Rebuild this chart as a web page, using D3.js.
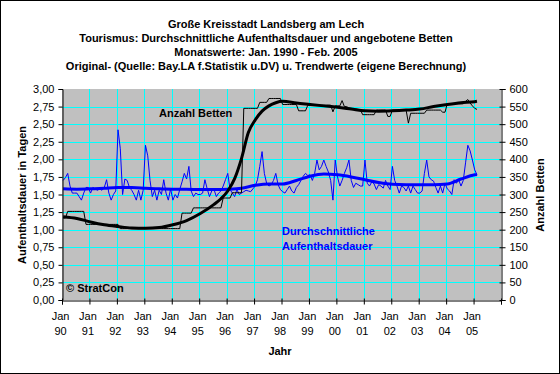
<!DOCTYPE html>
<html>
<head>
<meta charset="utf-8">
<script src="https://cdn.jsdelivr.net/npm/d3@7"></script>
<style>
body{margin:0;background:#fff;}
text{font-family:Arial,"Liberation Sans",sans-serif;font-size:11px;}
</style>
</head>
<body>
<script>
var width = 560, height = 374;

var titleLines = [
  "Große Kreisstadt Landsberg am Lech",
  "Tourismus: Durchschnittliche Aufenthaltsdauer und angebotene Betten",
  "Monatswerte: Jan. 1990 - Feb. 2005",
  "Original- (Quelle: Bay.LA f.Statistik u.DV) u. Trendwerte (eigene Berechnung)"
];
var years = ["90","91","92","93","94","95","96","97","98","99","00","01","02","03","04","05"];
var leftTicks = [0,0.25,0.5,0.75,1,1.25,1.5,1.75,2,2.25,2.5,2.75,3];
var rightTicks = [0,50,100,150,200,250,300,350,400,450,500,550,600];

// Durchschnittliche Aufenthaltsdauer, monthly Jan 1990 - Feb 2005
var stay = [
  1.70,1.74,1.80,1.62,1.52,1.52,1.52,1.47,1.42,1.52,1.60,1.60,
  1.52,1.60,1.58,1.56,1.58,1.56,1.60,1.71,1.52,1.42,1.50,1.55,
  2.42,2.15,1.50,1.72,1.70,1.60,1.56,1.50,1.42,1.56,1.42,1.56,
  2.20,2.05,1.70,1.47,1.56,1.42,1.56,1.50,1.71,1.52,1.42,1.58,
  1.42,1.50,1.45,1.57,1.68,1.80,1.72,1.90,1.55,1.47,1.52,1.50,
  1.50,1.52,1.71,1.58,1.47,1.55,1.57,1.47,1.52,1.55,1.62,1.71,
  1.80,1.57,1.52,1.47,1.57,1.50,1.52,1.54,1.56,1.55,1.54,1.58,
  1.62,1.71,1.90,2.11,1.80,1.66,1.62,1.64,1.70,1.80,1.64,1.57,
  1.54,1.52,1.57,1.62,1.55,1.52,1.60,1.64,1.70,1.76,1.80,1.77,
  1.78,1.70,1.80,1.99,1.85,1.90,1.99,1.90,1.82,1.70,1.42,1.99,
  1.75,1.62,1.70,1.80,1.88,1.99,1.70,1.60,1.66,1.64,1.62,1.62,
  1.99,1.66,1.62,1.68,1.65,1.57,1.64,1.62,1.59,1.70,1.62,1.57,
  1.90,1.70,1.62,1.52,1.62,1.60,1.55,1.62,1.52,1.62,1.57,1.52,
  1.52,1.55,1.80,1.99,1.75,1.71,1.69,1.60,1.52,1.62,1.52,1.66,
  1.58,1.55,1.50,1.71,1.66,1.71,1.62,1.70,1.95,2.20,2.12,1.99,
  1.85,1.78
];

// Anzahl Betten, monthly Jan 1990 - Feb 2005
var beds = [
  233,233,252,252,252,252,252,252,252,252,215,215,
  215,215,215,215,215,215,215,215,215,215,215,215,
  215,203,203,203,203,203,203,203,203,203,203,203,
  203,203,203,203,203,203,203,203,203,203,203,203,
  203,203,203,203,247,247,247,247,247,262,262,262,
  262,262,262,262,262,262,262,262,262,262,290,290,
  290,290,305,305,305,305,305,545,545,545,545,545,
  545,545,562,562,562,562,573,573,573,573,573,573,
  556,556,556,556,556,556,556,538,538,538,538,554,
  554,554,554,554,554,554,554,554,554,554,535,552,
  552,552,567,550,550,546,545,544,543,542,541,527,
  527,527,527,527,527,540,540,540,540,540,522,522,
  540,540,540,540,540,540,540,503,531,531,531,531,
  531,531,531,540,540,540,540,540,540,540,534,534,
  558,558,558,558,558,558,558,558,565,570,560,552,
  545,542
];

// trend values (month index from Jan 1990)
var stayTrendMonths = [0,6,12,18,24,30,36,42,48,54,60,66,72,78,84,90,96,102,108,114,120,126,132,138,144,150,156,162,168,174,180,181];
var stayTrend = [1.58,1.575,1.58,1.59,1.60,1.60,1.59,1.58,1.575,1.575,1.57,1.57,1.575,1.59,1.63,1.65,1.65,1.70,1.76,1.79,1.78,1.75,1.71,1.67,1.645,1.64,1.64,1.64,1.65,1.72,1.78,1.785];
var bedsTrendMonths = [0,6,12,18,24,30,36,42,48,54,60,66,69,72,75,78,81,84,87,90,93,96,102,108,114,120,126,132,138,144,150,156,162,168,174,180,181];
var bedsTrend = [237,232,222,214,209,205,204,206,214,226,246,272,288,310,345,402,476,512,537,552,561,565,560,556,552,548,543,538,537,538,540,543,550,556,561,564,565];

var plot = {left:62, right:501, top:89, bottom:300};

var svg = d3.select("body").append("svg")
  .attr("width", width)
  .attr("height", height);

svg.append("rect")
  .attr("x",0.5).attr("y",0.5)
  .attr("width",width-1).attr("height",height-1)
  .attr("fill","#fff").attr("stroke","#000");

var x = d3.scaleLinear().domain([0,192]).range([plot.left, plot.right]);
var yL = d3.scaleLinear().domain([0,3]).range([plot.bottom, plot.top]);
var yR = d3.scaleLinear().domain([0,600]).range([plot.bottom, plot.top]);

// plot background
svg.append("rect")
  .attr("x",plot.left).attr("y",plot.top)
  .attr("width",plot.right-plot.left).attr("height",plot.bottom-plot.top)
  .attr("fill","#c0c0c0");

// grid
var yearTicks = d3.range(0,193,12);
svg.append("g").selectAll("line")
  .data(leftTicks.filter(function(d){return d>0 && d<3;}))
  .enter().append("line")
  .attr("x1",plot.left).attr("x2",plot.right)
  .attr("y1",function(d){return Math.round(yL(d))+0.5;})
  .attr("y2",function(d){return Math.round(yL(d))+0.5;})
  .attr("stroke","#00ffff");
svg.append("g").selectAll("line")
  .data(yearTicks.filter(function(d){return d>0 && d<192;}))
  .enter().append("line")
  .attr("x1",function(d){return Math.round(x(d))+0.5;})
  .attr("x2",function(d){return Math.round(x(d))+0.5;})
  .attr("y1",plot.top).attr("y2",plot.bottom)
  .attr("stroke","#00ffff");

// lines
var px = function(d,i){return x(i+0.5);};
var stayLine = d3.line().x(px).y(function(d){return yL(d);});
var bedsLine = d3.line().x(px).y(function(d){return yR(d);});
var stayTrendLine = d3.line().curve(d3.curveMonotoneX)
  .x(function(d,i){return x(stayTrendMonths[i]+0.5);}).y(function(d){return yL(d);});
var bedsTrendLine = d3.line().curve(d3.curveMonotoneX)
  .x(function(d,i){return x(bedsTrendMonths[i]+0.5);}).y(function(d){return yR(d);});

svg.append("path").attr("d",stayLine(stay))
  .attr("fill","none").attr("stroke","#0000ff").attr("stroke-width",1);
svg.append("path").attr("d",stayTrendLine(stayTrend))
  .attr("fill","none").attr("stroke","#0000ff").attr("stroke-width",3);
svg.append("path").attr("d",bedsLine(beds))
  .attr("fill","none").attr("stroke","#000").attr("stroke-width",1);
svg.append("path").attr("d",bedsTrendLine(bedsTrend))
  .attr("fill","none").attr("stroke","#000").attr("stroke-width",3);

// axes
var fmt = d3.format(".2f");
var leftAxis = d3.axisLeft(yL).tickValues(leftTicks).tickSize(4).tickPadding(4)
  .tickFormat(function(d){return fmt(d).replace(".",",");});
var gL = svg.append("g").attr("transform","translate("+(plot.left+0.5)+",0)").call(leftAxis);

var rightAxis = d3.axisRight(yR).tickValues(rightTicks).tickSize(4).tickPadding(4);
var gR = svg.append("g").attr("transform","translate("+(plot.right+0.5)+",0)").call(rightAxis);
gR.selectAll(".tick line").attr("x1",-2).attr("x2",4);

var xAxis = d3.axisBottom(x).tickValues(yearTicks).tickSize(4).tickFormat("");
var gX = svg.append("g").attr("transform","translate(0,"+(plot.bottom+0.5)+")").call(xAxis);
gX.selectAll(".tick line").attr("y1",-2).attr("y2",4);

[gL,gR,gX].forEach(function(g){
  g.select(".domain").attr("stroke","#000");
  g.selectAll(".tick line").attr("stroke","#000");
  g.selectAll("text").attr("fill","#000").style("font-size","11px")
    .style("font-family","Arial, 'Liberation Sans', sans-serif");
});

var xl = svg.append("g").selectAll("g").data(years).enter().append("g")
  .attr("transform",function(d,i){return "translate("+(x(i*12)-1.5)+",0)";});
xl.append("text").attr("y",320).attr("text-anchor","middle").text("Jan");
xl.append("text").attr("y",335).attr("text-anchor","middle").text(function(d){return d;});

// titles
svg.append("g").selectAll("text").data(titleLines).enter().append("text")
  .attr("x",266).attr("y",function(d,i){return 28+i*14;})
  .attr("text-anchor","middle").attr("font-weight","bold")
  .text(function(d){return d;});

svg.append("text").attr("transform","translate(26,195) rotate(-90)")
  .attr("text-anchor","middle").attr("font-weight","bold")
  .text("Aufenthaltsdauer in Tagen");
svg.append("text").attr("transform","translate(544,195) rotate(-90)")
  .attr("text-anchor","middle").attr("font-weight","bold")
  .text("Anzahl Betten");
svg.append("text").attr("x",280).attr("y",355)
  .attr("text-anchor","middle").attr("font-weight","bold").text("Jahr");

svg.append("text").attr("x",159).attr("y",117)
  .attr("font-weight","bold").text("Anzahl Betten");
svg.append("text").attr("x",282).attr("y",235)
  .attr("font-weight","bold").attr("fill","#0000ff").text("Durchschnittliche");
svg.append("text").attr("x",282).attr("y",250)
  .attr("font-weight","bold").attr("fill","#0000ff").text("Aufenthaltsdauer");
svg.append("text").attr("x",66).attr("y",292)
  .attr("font-weight","bold").text("© StratCon");
</script>
</body>
</html>
